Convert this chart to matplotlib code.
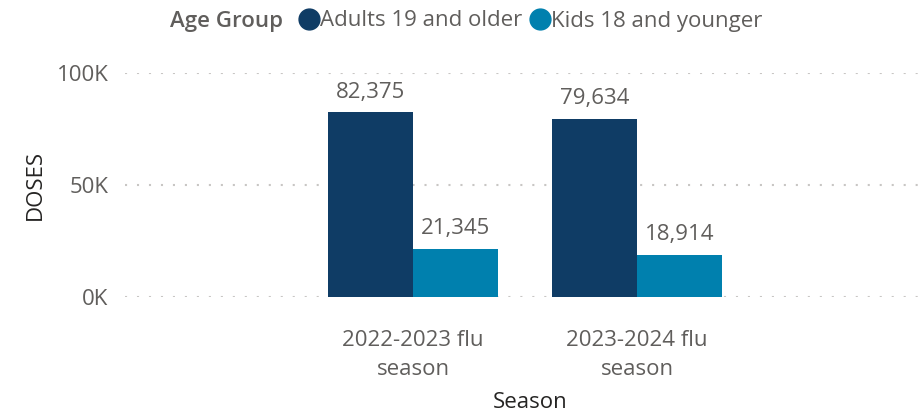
import matplotlib
matplotlib.use("Agg")
import matplotlib.pyplot as plt
from matplotlib.lines import Line2D
import numpy as np

seasons = ["2022-2023 flu\nseason", "2023-2024 flu\nseason"]
series_names = ["Adults 19 and older", "Kids 18 and younger"]
adults = [82375, 79634]
kids = [21345, 18914]
yticks = [0, 50000, 100000]
ytick_labels = ["0K", "50K", "100K"]

colors = ["#0F3C65", "#0080AE"]
tick_color = "#605E5C"
title_color = "#252423"
font = "Open Sans"
plt.rcParams["font.family"] = [font, "DejaVu Sans"]
fs = 16

W, H = 923, 413
fig = plt.figure(figsize=(W / 100, H / 100), dpi=100)
left, right, top, bottom = 125, 920, 73, 297
ax = fig.add_axes([left / W, 1 - bottom / H, (right - left) / W, (bottom - top) / H])

x = np.arange(len(seasons))
bw = 0.38
for i, (vals, c) in enumerate(zip([adults, kids], colors)):
    xs = x + (i - 0.5) * bw
    bars = ax.bar(xs, vals, width=bw, color=c, label=series_names[i], zorder=3)
    for b, v in zip(bars, vals):
        ax.annotate(f"{v:,}", (b.get_x() + b.get_width() / 2, v), xytext=(0, 7),
                    textcoords="offset points", ha="center", va="bottom",
                    fontsize=fs, color=tick_color, annotation_clip=False)

ax.set_xlim(-(413 - left) / 224, 1 + (right - 637) / 224)
ax.set_ylim(0, 100000)
ax.set_yticks(yticks)
ax.set_yticklabels(ytick_labels)
ax.set_xticks(x)
ax.set_xticklabels(seasons, linespacing=1.5)
ax.tick_params(axis="y", length=0, pad=12, labelsize=fs, labelcolor=tick_color)
ax.tick_params(axis="x", length=0, pad=24, labelsize=fs, labelcolor=tick_color)
for s in ax.spines.values():
    s.set_visible(False)
ax.grid(axis="y", color="#C8C6C4", linestyle=(0, (1, 4.75)), linewidth=1.5, zorder=0)
ax.set_axisbelow(True)

fig.text(35 / W, 1 - 185 / H, "DOSES", ha="center", va="center", rotation=90,
         fontsize=fs, color=title_color)
fig.text(530 / W, 1 - 403 / H, "Season", ha="center", va="center", fontsize=fs, color=title_color)

# legend
fig.text(283 / W, 1 - 21 / H, "Age Group", ha="right", va="center", fontsize=fs,
         fontweight="semibold", color=tick_color)
handles = [Line2D([], [], marker="o", linestyle="none", markersize=15, color=c) for c in colors]
leg = fig.legend(handles, series_names, loc="center left", bbox_to_anchor=(298 / W, 1 - 21 / H),
                 ncol=2, frameon=False, fontsize=fs, handletextpad=0.0, columnspacing=0.3,
                 handlelength=1.0, borderpad=0, borderaxespad=0)
for t in leg.get_texts():
    t.set_color(tick_color)

fig.savefig("out.png", dpi=100)
